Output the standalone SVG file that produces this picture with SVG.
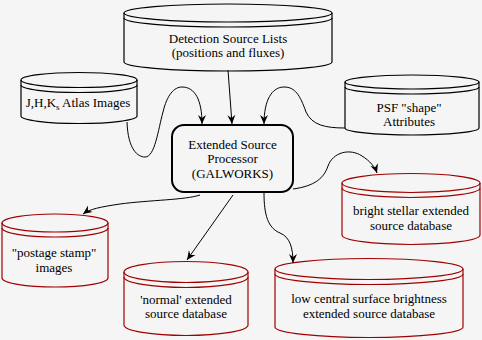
<svg xmlns="http://www.w3.org/2000/svg" width="482" height="340" viewBox="0 0 482 340">
<defs>
<marker id="arr" markerUnits="userSpaceOnUse" markerWidth="12" markerHeight="12" viewBox="-10 -6 12 12" refX="0" refY="0" orient="auto">
<path d="M0,0 L-9,-4 L-6,0 L-9,4 Z" fill="#000"/>
</marker>
<style>
.bg{fill:#f5f5f5}
.cyl path,.cyl ellipse{fill:none;stroke-width:1.2}
.in path,.in ellipse{stroke:#000}
.out path,.out ellipse{stroke:#a00000}
text{font-family:"Liberation Serif","Times New Roman",serif;font-size:13px;fill:#000;text-anchor:middle}
.conn path{fill:none;stroke:#000;stroke-width:1;marker-end:url(#arr)}
</style>
</defs>
<rect class="bg" x="0" y="0" width="482" height="340"/>

<g id="detection" class="cyl in">
<ellipse cx="228" cy="13" rx="104" ry="9"/>
<path d="M124,18 A104,9 0 0 0 332,18"/>
<path d="M124,13 V62 M332,13 V62 M124,62 A104,9 0 0 0 332,62"/>
<text x="228" y="43">Detection Source Lists</text>
<text x="228" y="57">(positions and fluxes)</text>
</g>

<g id="atlas" class="cyl in">
<ellipse cx="79" cy="80" rx="58" ry="7.5"/>
<path d="M21,85 A58,7.5 0 0 0 137,85"/>
<path d="M21,80 V116 M137,80 V116 M21,116 A58,7.5 0 0 0 137,116"/>
<text x="78" y="107">J,H,K<tspan dy="3" font-size="9">s</tspan><tspan dy="-3"> Atlas Images</tspan></text>
</g>

<g id="psf" class="cyl in">
<ellipse cx="412" cy="82" rx="67" ry="7"/>
<path d="M345,87 A67,7 0 0 0 479,87"/>
<path d="M345,82 V128 M479,82 V128 M345,128 A67,7 0 0 0 479,128"/>
<text x="409" y="112">PSF "shape"</text>
<text x="409" y="126">Attributes</text>
</g>

<g id="processor">
<rect x="172" y="125" width="121" height="67" rx="12" ry="12" fill="none" stroke="#000" stroke-width="2"/>
<text x="232.5" y="149">Extended Source</text>
<text x="232.5" y="163">Processor</text>
<text x="232.5" y="178">(GALWORKS)</text>
</g>

<g id="bright" class="cyl out">
<ellipse cx="411" cy="183" rx="69" ry="9.5"/>
<path d="M342,188 A69,9.5 0 0 0 480,188"/>
<path d="M342,183 V235 M480,183 V235 M342,235 A69,9.5 0 0 0 480,235"/>
<text x="411" y="215">bright stellar extended</text>
<text x="411" y="230">source database</text>
</g>

<g id="postage" class="cyl out">
<ellipse cx="55" cy="223" rx="53" ry="9"/>
<path d="M2,228 A53,9 0 0 0 108,228"/>
<path d="M2,223 V278 M108,223 V278 M2,278 A53,9 0 0 0 108,278"/>
<text x="54" y="257">"postage stamp"</text>
<text x="54" y="272">images</text>
</g>

<g id="normal" class="cyl out">
<ellipse cx="186" cy="272" rx="62" ry="10.5"/>
<path d="M124,277 A62,10.5 0 0 0 248,277"/>
<path d="M124,272 V325 M248,272 V325 M124,325 A62,10.5 0 0 0 248,325"/>
<text x="186" y="304">'normal' extended</text>
<text x="186" y="318">source database</text>
</g>

<g id="lowcentral" class="cyl out">
<ellipse cx="369" cy="269" rx="94" ry="10.5"/>
<path d="M275,274 A94,10.5 0 0 0 463,274"/>
<path d="M275,269 V327 M463,269 V327 M275,327 A94,10.5 0 0 0 463,327"/>
<text x="369" y="303">low central surface brightness</text>
<text x="369" y="318">extended source database</text>
</g>

<g id="connectors" class="conn">
<path d="M228,70 L232,124"/>
<path d="M127,122 C128,150 138,157 145,157 C155,157 158,130 163,112 C167,95 174,87 182,87 C195,87 202,100 202,124"/>
<path d="M345,128 C325,128 312,125 306,112 C300,95 295,87 284,87 C272,87 264,100 264,124"/>
<path d="M293,189 C315,186 324,178 328,166 C333,152 350,148 362,156 C370,161 375,167 377,173"/>
<path d="M200,195 C185,200 150,200 120,204 C100,207 90,209 83,214"/>
<path d="M233,195 L187,260"/>
<path d="M264,193 C264,215 268,228 280,233 C290,237 293,248 293,263"/>
</g>
</svg>
